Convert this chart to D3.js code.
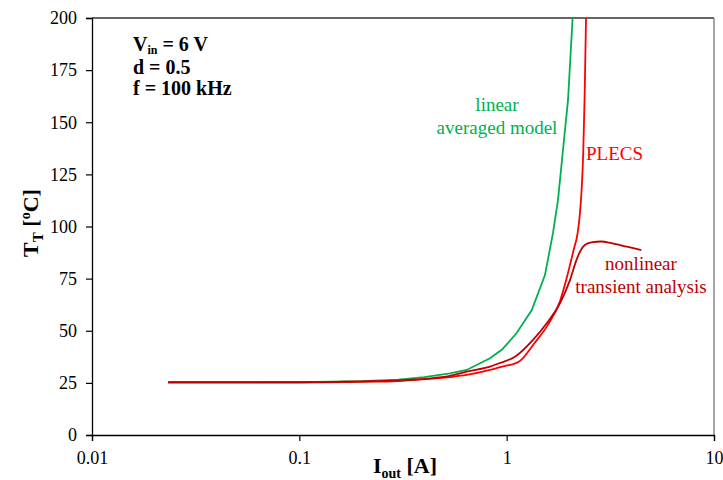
<!DOCTYPE html>
<html><head><meta charset="utf-8">
<script src="https://cdn.jsdelivr.net/npm/d3@7"></script>
<style>body{margin:0;background:#fff}svg{display:block}svg text{font-family:"Times New Roman","Liberation Serif",serif !important}</style>
</head><body>
<svg id="c" width="723" height="480" font-family="Liberation Serif, serif"></svg>
<script>
const xTicks = [0.01, 0.1, 1, 10];
const xTickLabels = ["0.01", "0.1", "1", "10"];
const yTicks = [0, 25, 50, 75, 100, 125, 150, 175, 200];

const linearAveraged = [[0.0233,25.2],[0.05,25.2],[0.1,25.3],[0.2,25.8],[0.3,26.6],[0.4,27.8],[0.533,29.6],[0.641,31.2],[0.831,36.8],[0.95,41.0],[1.115,48.8],[1.32,59.8],[1.53,76.7],[1.673,96.9],[1.768,112.7],[1.89,141.5],[1.977,160.7],[2.08,200]];
const plecs = [[0.0233,25.2],[0.1,25.2],[0.2,25.5],[0.3,25.9],[0.44,27.0],[0.533,27.8],[0.641,28.8],[0.831,31.2],[0.95,32.8],[1.15,35.3],[1.36,44],[1.58,52.8],[1.81,64.3],[1.95,75.5],[2.10,88.5],[2.2,97],[2.25,105],[2.30,118],[2.34,135],[2.38,165],[2.414,200]];
const nonlinear = [[0.0233,25.3],[0.1,25.3],[0.2,25.7],[0.3,26.2],[0.533,28.4],[0.641,30.4],[0.831,32.8],[0.926,34.5],[1.10,37.6],[1.34,45.6],[1.56,53.6],[1.81,63.3],[2.02,74.3],[2.17,83.9],[2.26,88],[2.39,91.2],[2.6,92.5],[2.85,92.8],[3.2,92.0],[3.8,90.3],[4.46,88.7]];

const FONT = "Liberation Serif, Times New Roman, serif";
const svg = d3.select("#c");
const L = 92, R = 714, T = 18, B = 435;
const x = d3.scaleLog().domain([0.01, 10]).range([L, R]);
const y = d3.scaleLinear().domain([0, 200]).range([B, T]);

svg.append("clipPath").attr("id","clip").append("rect")
  .attr("x", L).attr("y", T).attr("width", R-L).attr("height", B-T);

// frame top/right
svg.append("line").attr("x1",L).attr("x2",R).attr("y1",T).attr("y2",T).attr("stroke","#333").attr("stroke-width",1.3);
svg.append("line").attr("x1",R).attr("x2",R).attr("y1",T).attr("y2",B).attr("stroke","#777").attr("stroke-width",1.3);

const xAxis = svg.append("g").attr("transform",`translate(0,${B})`)
  .call(d3.axisBottom(x).tickValues(xTicks).tickFormat((d,i)=>xTickLabels[i]).tickSize(6).tickPadding(6));
const yAxis = svg.append("g").attr("transform",`translate(${L},0)`)
  .call(d3.axisLeft(y).tickValues(yTicks).tickSize(6).tickPadding(9));
[xAxis,yAxis].forEach(g=>{
  g.attr("font-family", FONT);
  g.select(".domain").attr("stroke","#000").attr("stroke-width",1.3);
  g.selectAll(".tick line").attr("stroke","#000").attr("stroke-width",1.2);
  g.selectAll(".tick text").attr("font-size",18).attr("fill","#000").attr("font-family",FONT);
});
xAxis.selectAll(".tick text").attr("dy","0.95em");

const line = d3.line().x(d=>x(d[0])).y(d=>y(d[1]));
const g = svg.append("g").attr("clip-path","url(#clip)");
g.append("path").datum(linearAveraged).attr("d", line.curve(d3.curveLinear)).attr("fill","none").attr("stroke","#00b050").attr("stroke-width",1.8);
g.append("path").datum(plecs).attr("d", line.curve(d3.curveMonotoneX)).attr("fill","none").attr("stroke","#ff0000").attr("stroke-width",1.8);
g.append("path").datum(nonlinear).attr("d", line.curve(d3.curveMonotoneX)).attr("fill","none").attr("stroke","#c00000").attr("stroke-width",1.8);

// parameter box
const p = svg.append("g").attr("font-weight","bold").attr("font-size",20).attr("fill","#000").attr("font-family",FONT);
const t1 = p.append("text").attr("x",133).attr("y",51);
t1.append("tspan").text("V");
t1.append("tspan").attr("font-size",12).attr("dy",3).text("in");
t1.append("tspan").attr("dy",-3).text(" = 6 V");
p.append("text").attr("x",133).attr("y",74).text("d = 0.5");
p.append("text").attr("x",133).attr("y",95).text("f = 100 kHz");

// curve labels
const lab = svg.append("g").attr("font-family",FONT).attr("font-size",19);
lab.append("text").attr("x",497).attr("y",111).attr("text-anchor","middle").attr("fill","#00b050").text("linear");
lab.append("text").attr("x",497).attr("y",134).attr("text-anchor","middle").attr("fill","#00b050").text("averaged model");
lab.append("text").attr("x",586).attr("y",160).attr("fill","#ff0000").text("PLECS");
lab.append("text").attr("x",641).attr("y",270).attr("text-anchor","middle").attr("fill","#c00000").text("nonlinear");
lab.append("text").attr("x",641).attr("y",293).attr("text-anchor","middle").attr("fill","#c00000").text("transient analysis");

// axis titles
const xt = svg.append("text").attr("x",405).attr("y",473).attr("text-anchor","middle").attr("font-weight","bold").attr("font-size",22).attr("font-family",FONT);
xt.append("tspan").text("I");
xt.append("tspan").attr("font-size",14).attr("dy",5).text("out");
xt.append("tspan").attr("dy",-5).text(" [A]");

const yt = svg.append("text").attr("transform","translate(38,223) rotate(-90)").attr("text-anchor","middle").attr("font-weight","bold").attr("font-size",22).attr("font-family",FONT);
yt.append("tspan").text("T");
yt.append("tspan").attr("font-size",15).attr("dy",5).text("T");
yt.append("tspan").attr("dy",-5).text(" [");
yt.append("tspan").attr("font-size",14).attr("dy",-8).text("o");
yt.append("tspan").attr("dy",8).text("C]");
</script>
</body></html>
